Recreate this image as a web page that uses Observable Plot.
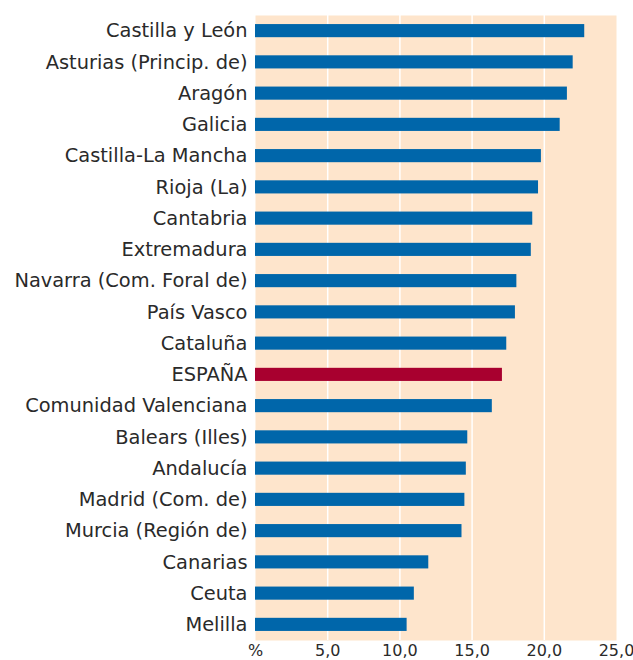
<!DOCTYPE html>
<html>
<head>
<meta charset="utf-8">
<script src="https://cdn.jsdelivr.net/npm/d3@7"></script>
<script src="https://cdn.jsdelivr.net/npm/@observablehq/plot@0.6"></script>
<style>
  html, body { margin: 0; padding: 0; background: #fff; }
  #chart svg { display: block; }
</style>
</head>
<body>
<div id="chart"></div>
<script>
const regions = [
  "Castilla y León", "Asturias (Princip. de)", "Aragón", "Galicia",
  "Castilla-La Mancha", "Rioja (La)", "Cantabria", "Extremadura",
  "Navarra (Com. Foral de)", "País Vasco", "Cataluña", "ESPAÑA",
  "Comunidad Valenciana", "Balears (Illes)", "Andalucía", "Madrid (Com. de)",
  "Murcia (Región de)", "Canarias", "Ceuta", "Melilla"
];
const values = [
  22.8, 22.0, 21.6, 21.1,
  19.8, 19.6, 19.2, 19.1,
  18.1, 18.0, 17.4, 17.1,
  16.4, 14.7, 14.6, 14.5,
  14.3, 12.0, 11.0, 10.5
];
const xTicks = [0, 5, 10, 15, 20, 25];
const gridTicks = [5, 10, 15, 20];

const data = regions.map((r, i) => ({region: r, value: values[i]}));

const chart = Plot.plot({
  width: 633,
  height: 660,
  marginLeft: 255,
  marginRight: 17,
  marginTop: 15,
  marginBottom: 20,
  style: {fontFamily: "'DejaVu Sans', sans-serif", color: "#2a2a2a", background: "#fff"},
  x: {domain: [0, 25], axis: null},
  y: {domain: regions, paddingInner: 0.58, paddingOuter: 0.29, round: false, axis: null},
  marks: [
    Plot.frame({fill: "#fee5cc", stroke: null}),
    Plot.ruleX(gridTicks, {stroke: "#fff", strokeWidth: 1.5}),
    Plot.barX(data, {
      x: "value", y: "region",
      fill: d => d.region === "ESPAÑA" ? "#a8002f" : "#0066aa"
    }),
    Plot.axisY({
      tickSize: 0, tickPadding: 8, fontSize: 19.4, fill: "#2a2a2a", label: null
    }),
    Plot.axisX({
      ticks: xTicks, tickSize: 0, tickPadding: 4, fontSize: 16, fill: "#2a2a2a", label: null,
      tickFormat: d => d === 0 ? "%" : d.toFixed(1).replace(".", ",")
    })
  ]
});
document.getElementById("chart").appendChild(chart);
</script>
</body>
</html>
